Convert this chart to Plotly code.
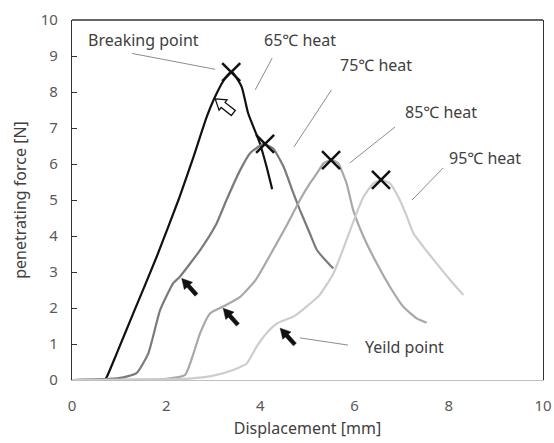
import math
import plotly.graph_objects as go

# Displacement [mm] / penetrating force [N] for each heating temperature
x65 = [0.0, 0.5, 0.70, 0.74, 0.95, 1.30, 1.80, 2.26, 2.58, 2.86, 3.07, 3.25, 3.39, 3.60, 3.74, 3.99, 4.13, 4.25]
y65 = [0.0, 0.0, 0.02, 0.09, 0.74, 1.85, 3.43, 5.00, 6.20, 7.31, 7.96, 8.38, 8.56, 8.15, 7.41, 6.57, 5.93, 5.30]

x75 = [0.0, 1.0, 1.37, 1.62, 1.87, 2.15, 2.29, 2.72, 3.07, 3.28, 3.57, 3.78, 3.96, 4.06, 4.27, 4.49, 4.70, 4.84, 5.05, 5.20, 5.48, 5.55]
y75 = [0.0, 0.05, 0.19, 0.74, 1.94, 2.69, 2.87, 3.61, 4.35, 5.00, 5.83, 6.30, 6.48, 6.56, 6.43, 5.93, 5.19, 4.72, 4.07, 3.61, 3.19, 3.10]

x85 = [0.0, 2.0, 2.40, 2.58, 2.72, 2.93, 3.21, 3.57, 3.90, 4.22, 4.56, 4.84, 5.05, 5.20, 5.34, 5.51, 5.65, 5.83, 5.97, 6.19, 6.47, 6.75, 7.03, 7.32, 7.53]
y85 = [0.0, 0.03, 0.14, 0.74, 1.30, 1.85, 2.04, 2.31, 2.78, 3.50, 4.30, 5.00, 5.46, 5.74, 6.02, 6.11, 6.02, 5.46, 4.72, 3.98, 3.24, 2.59, 2.04, 1.71, 1.59]

x95 = [0.0, 2.5, 3.0, 3.42, 3.71, 3.92, 4.13, 4.35, 4.70, 4.98, 5.25, 5.55, 5.83, 6.04, 6.19, 6.40, 6.57, 6.75, 6.96, 7.11, 7.25, 7.46, 7.74, 8.03, 8.31]
y95 = [0.0, 0.04, 0.12, 0.28, 0.46, 0.93, 1.30, 1.57, 1.76, 2.04, 2.35, 2.96, 3.89, 4.63, 5.09, 5.46, 5.56, 5.46, 5.00, 4.54, 4.07, 3.70, 3.24, 2.78, 2.36]

# Breaking points (X markers)
break_x = [3.38, 4.10, 5.50, 6.56]
break_y = [8.55, 6.56, 6.11, 5.56]

# Yield points (black arrow tips)
yield_x = [2.33, 3.21, 4.42]
yield_y = [2.82, 1.99, 1.44]

series_labels = ["65℃ heat", "75℃ heat", "85℃ heat", "95℃ heat"]
series_colors = ["#111111", "#7a7a7a", "#a8a8a8", "#cdcdcd"]

# Callout text positions and their leader lines (data units)
label_x = [4.84, 6.45, 7.83, 8.77]
label_y = [9.44, 8.75, 7.45, 6.16]
leader = [((3.89, 8.06), (4.25, 8.94)),
          ((4.71, 6.47), (5.51, 8.06)),
          ((5.90, 6.03), (6.86, 7.03)),
          ((7.22, 5.00), (7.88, 5.89))]

break_label = ("Breaking point", 1.51, 9.44)
break_leader = ((1.28, 9.07), (3.04, 8.63))
break_arrow_tip = (3.04, 7.81)

yield_label = ("Yeild point", 7.05, 0.93)
yield_leader = ((4.84, 1.17), (5.86, 0.97))

x_ticks = [0, 2, 4, 6, 8, 10]
y_ticks = list(range(0, 11))

FONT = "Noto Sans, Noto Sans CJK JP, sans-serif"
TXT = "#404040"


def arrow_path(dx, dy, length, head_len, head_half, shaft_half):
    """Closed arrow outline in pixels, tip at (0,0), tail in direction (dx, dy) (screen: y down)."""
    n = math.hypot(dx, dy)
    ux, uy = dx / n, -dy / n          # pixel-mode y axis points up
    vx, vy = -uy, ux
    local = [(0, 0), (head_len, head_half), (head_len, shaft_half), (length, shaft_half),
             (length, -shaft_half), (head_len, -shaft_half), (head_len, -head_half)]
    pts = [(a * ux + b * vx, a * uy + b * vy) for a, b in local]
    return "M " + " L ".join(f"{px:.2f} {py:.2f}" for px, py in pts) + " Z"


fig = go.Figure()
for xs, ys, c in zip([x65, x75, x85, x95], [y65, y75, y85, y95], series_colors):
    fig.add_trace(go.Scatter(x=xs, y=ys, mode="lines",
                             line=dict(color=c, width=2.2, shape="spline", smoothing=0.5),
                             showlegend=False, hoverinfo="skip"))

fig.add_trace(go.Scatter(x=break_x, y=break_y, mode="markers",
                         marker=dict(symbol="x-thin", size=18, line=dict(width=2.5, color="#111111")),
                         showlegend=False, hoverinfo="skip"))

ann = []
shapes = []
for txt, lx, ly, ((x0, y0), (x1, y1)) in zip(series_labels, label_x, label_y, leader):
    ann.append(dict(x=lx, y=ly, text=txt, showarrow=False, font=dict(size=16, color=TXT, family=FONT)))
    shapes.append(dict(type="line", x0=x0, y0=y0, x1=x1, y1=y1, line=dict(color="#8c8c8c", width=1)))

for txt, lx, ly, ((x0, y0), (x1, y1)) in [(break_label[0], break_label[1], break_label[2], break_leader),
                                          (yield_label[0], yield_label[1], yield_label[2], yield_leader)]:
    ann.append(dict(x=lx, y=ly, text=txt, showarrow=False, font=dict(size=16, color=TXT, family=FONT)))
    shapes.append(dict(type="line", x0=x0, y0=y0, x1=x1, y1=y1, line=dict(color="#8c8c8c", width=1)))

# Filled black arrows at yield points
solid = arrow_path(15, 16.7, 22, 10, 5.5, 2.0)
for xp, yp in zip(yield_x, yield_y):
    shapes.append(dict(type="path", xsizemode="pixel", ysizemode="pixel", xanchor=xp, yanchor=yp,
                       path=solid, fillcolor="#111111", line=dict(color="#111111", width=0.5)))

# Hollow arrow pointing at the breaking region of the 65℃ curve
bx, by = break_arrow_tip
hollow = arrow_path(18, 14, 23, 10, 6.5, 3.2)
shapes.append(dict(type="path", xsizemode="pixel", ysizemode="pixel", xanchor=bx, yanchor=by,
                   path=hollow, fillcolor="#ffffff", line=dict(color="#111111", width=1.3)))

# Top border of the plotting frame
shapes.append(dict(type="line", xref="paper", yref="paper", x0=0, x1=1, y0=1, y1=1,
                   line=dict(color="#333333", width=1.3)))

fig.update_layout(
    width=554, height=443,
    margin=dict(l=72, r=11, t=20, b=63, autoexpand=False),
    paper_bgcolor="white", plot_bgcolor="white",
    font=dict(family=FONT, size=15, color="#595959"),
    annotations=ann, shapes=shapes,
    xaxis=dict(range=[0, 10], tickvals=x_ticks, showgrid=False, zeroline=False, automargin=False,
               showline=True, linecolor="#bfbfbf", linewidth=1.3, ticks="", ticklabelstandoff=12,
               title=dict(text="Displacement [mm]", font=dict(size=16, color="#404040"), standoff=8),
               tickfont=dict(size=15, color="#595959")),
    yaxis=dict(range=[0, 10], tickvals=y_ticks, showgrid=False, zeroline=False, automargin=False,
               showline=True, mirror=True, linecolor="#333333", linewidth=1.3,
               ticks="inside", ticklen=5, tickcolor="#333333", ticklabelstandoff=10,
               title=dict(text="penetrating force [N]", font=dict(size=16, color="#404040"), standoff=10),
               tickfont=dict(size=15, color="#595959")),
)

fig.write_html("out.html")
